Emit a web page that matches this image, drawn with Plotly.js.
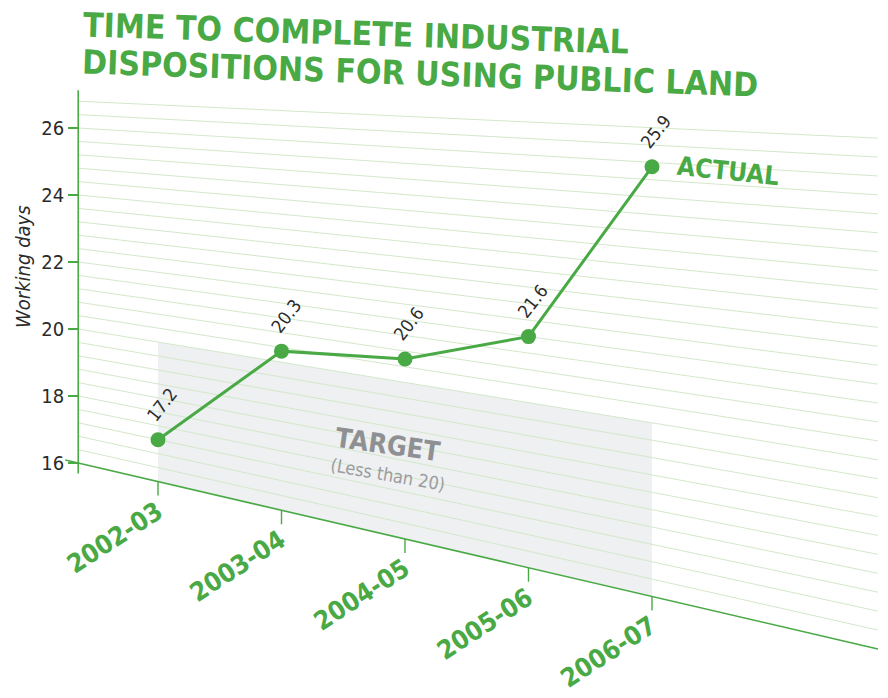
<!DOCTYPE html>
<html>
<head>
<meta charset="utf-8">
<script src="https://cdn.plot.ly/plotly-3.0.1.min.js"></script>
<style>
  html, body { margin: 0; padding: 0; background: #ffffff; }
  #chart { width: 888px; height: 698px; }
</style>
</head>
<body>
<div id="chart"></div>
<script>
// ---------------- data ----------------
const years = ['2002-03', '2003-04', '2004-05', '2005-06', '2006-07'];
const workingDays = [17.2, 20.3, 20.6, 21.6, 25.9];
const targetDays = 20;              // target: less than 20 working days
const yTickVals = [16, 18, 20, 22, 24, 26];
const titleLines = ['TIME TO COMPLETE INDUSTRIAL', 'DISPOSITIONS FOR USING PUBLIC LAND'];
const yTitle = 'Working days';
const targetLabel = 'TARGET';
const targetNote = '(Less than 20)';
const seriesLabel = 'ACTUAL';

// ---------------- style ----------------
const GREEN = '#49a945';
const GRID = '#d3e8cb';
const TARGET_FILL = '#eef0f1';
const NARROW = "'Liberation Sans Narrow', 'DejaVu Sans Condensed', 'Arial Narrow', sans-serif";

// ---------------- receding-plane perspective ----------------
// The chart sits on a plane that recedes towards the left: value lines fan out
// to the right. Category positions stay on the library's x axis; the y axis is
// the value scale at the plane's left edge, and onPlane() gives, for a point
// (category position u, value v), where it sits on that left-edge scale.
const FLOOR = 16;                 // value of the floor line (x axis)
const U_LEFT = -0.646;            // left edge of the plane, in category units
const U_RIGHT = 5.829;            // right edge of the plane, in category units
const FAR_SCALE = 1.412;          // value scale at the right edge / left edge
const FLOOR_DROP = 5.552;         // drop of the floor line across the plane
const GRID_STEP = 0.4, GRID_TOP = 26.8;

function depth(u) { return (u - U_LEFT) / (U_RIGHT - U_LEFT); }
function onPlane(u, v) {
  const t = depth(u);
  return FLOOR + (1 + t * (FAR_SCALE - 1)) * (v - FLOOR) - t * FLOOR_DROP;
}

// ---------------- shapes: target area, grid, axes ----------------
const shapes = [];
const last = years.length - 1;
shapes.push({
  type: 'path', layer: 'below', xref: 'x', yref: 'y',
  path: `M 0,${onPlane(0, FLOOR)} L ${last},${onPlane(last, FLOOR)} L ${last},${onPlane(last, targetDays)} L 0,${onPlane(0, targetDays)} Z`,
  fillcolor: TARGET_FILL, line: { width: 0 }
});
for (let k = 1; FLOOR + k * GRID_STEP <= GRID_TOP + 1e-9; k++) {
  const v = FLOOR + k * GRID_STEP;
  shapes.push({
    type: 'line', layer: 'below', xref: 'x', yref: 'y',
    x0: U_LEFT, x1: U_RIGHT, y0: onPlane(U_LEFT, v), y1: onPlane(U_RIGHT, v),
    line: { color: GRID, width: 1 }
  });
}
// floor line (x axis), extended a little to the left of the value axis
const uFloorStart = U_LEFT - 0.105;
shapes.push({
  type: 'line', layer: 'below', xref: 'x', yref: 'y',
  x0: uFloorStart, x1: U_RIGHT, y0: onPlane(uFloorStart, FLOOR), y1: onPlane(U_RIGHT, FLOOR),
  line: { color: GREEN, width: 1.6 }
});
// value axis line at the left edge
shapes.push({
  type: 'line', layer: 'below', xref: 'x', yref: 'y',
  x0: U_LEFT, x1: U_LEFT, y0: 15.69, y1: 27.13,
  line: { color: GREEN, width: 1.6 }
});
// category tick marks below the floor line
years.forEach((y, i) => {
  shapes.push({
    type: 'line', layer: 'below', xref: 'x', yref: 'y',
    ysizemode: 'pixel', yanchor: onPlane(i, FLOOR), x0: i, x1: i, y0: 0, y1: -14,
    line: { color: GREEN, width: 1.4 }
  });
});

// ---------------- annotations ----------------
const annotations = [];
// title (two lines, slightly tilted by the plane)
annotations.push({
  xref: 'paper', yref: 'paper', x: 80 / 888, y: 1 - 33 / 698, xanchor: 'left', yanchor: 'middle',
  text: titleLines[0], showarrow: false, textangle: 1.8,
  font: { family: NARROW, size: 33.5, color: GREEN, weight: 700 }
});
annotations.push({
  xref: 'paper', yref: 'paper', x: 79 / 888, y: 1 - 73 / 698, xanchor: 'left', yanchor: 'middle',
  text: titleLines[1], showarrow: false, textangle: 1.95,
  font: { family: NARROW, size: 33.5, color: GREEN, weight: 700 }
});
// y axis title
annotations.push({
  xref: 'paper', yref: 'paper', x: 23 / 888, y: 1 - 267 / 698, xanchor: 'center', yanchor: 'middle',
  text: yTitle, showarrow: false, textangle: -90,
  font: { family: NARROW, size: 20, color: '#2b2b2b', style: 'italic' }
});
// category labels along the floor line
years.forEach((y, i) => {
  annotations.push({
    xref: 'x', yref: 'y', x: y, y: onPlane(i, FLOOR), xshift: -44, yshift: -56,
    xanchor: 'center', yanchor: 'middle', showarrow: false, textangle: -33,
    text: y, font: { family: NARROW, size: 26, color: GREEN, weight: 700 }
  });
});
// value labels above each point
workingDays.forEach((v, i) => {
  annotations.push({
    xref: 'x', yref: 'y', x: years[i], y: onPlane(i, v), xshift: 4, yshift: 35,
    xanchor: 'center', yanchor: 'middle', showarrow: false, textangle: -52,
    text: v.toFixed(1), font: { family: NARROW, size: 18, color: '#2b2b2b' }
  });
});
// target labels inside the shaded area
annotations.push({
  xref: 'x', yref: 'y', x: 1.86, y: onPlane(1.86, 18.32),
  xanchor: 'center', yanchor: 'middle', showarrow: false, textangle: 8,
  text: targetLabel, font: { family: NARROW, size: 27, color: '#8e9093', weight: 700 }
});
annotations.push({
  xref: 'x', yref: 'y', x: 1.86, y: onPlane(1.86, 17.57),
  xanchor: 'center', yanchor: 'middle', showarrow: false, textangle: 10,
  text: targetNote, font: { family: NARROW, size: 18, color: '#9a9c9f' }
});
// series label next to the last point
annotations.push({
  xref: 'x', yref: 'y', x: years[last], y: onPlane(last, workingDays[last]), xshift: 22, yshift: -4,
  xanchor: 'left', yanchor: 'middle', showarrow: false, textangle: 6,
  text: seriesLabel, font: { family: NARROW, size: 26, color: GREEN, weight: 700 }
});

// ---------------- trace ----------------
const trace = {
  type: 'scatter', mode: 'lines+markers',
  x: years,
  y: workingDays.map((v, i) => onPlane(i, v)),
  customdata: workingDays,
  hovertemplate: '%{x}: %{customdata} working days<extra></extra>',
  line: { color: GREEN, width: 3 },
  marker: { color: GREEN, size: 15 },
  cliponaxis: false,
  showlegend: false
};

// ---------------- layout ----------------
// x axis: 123.5 px per category with 2002-03 at x=158 px; y axis: 33.5 px per day with 16 at y=463 px
const PX_PER_CAT = 123.5, PX_PER_DAY = 33.5, W = 888, H = 698;
const xr0 = -158 / PX_PER_CAT;
const yr1 = FLOOR + 463 / PX_PER_DAY;
const layout = {
  width: W, height: H,
  margin: { l: 0, r: 0, t: 0, b: 0 },
  paper_bgcolor: '#ffffff', plot_bgcolor: '#ffffff',
  showlegend: false,
  xaxis: {
    type: 'category', categoryorder: 'array', categoryarray: years,
    range: [xr0, xr0 + W / PX_PER_CAT],
    showticklabels: false, ticks: '', showgrid: false, zeroline: false, showline: false, fixedrange: true
  },
  yaxis: {
    range: [yr1 - H / PX_PER_DAY, yr1],
    anchor: 'free', position: (158 + U_LEFT * PX_PER_CAT) / W,
    tickvals: yTickVals, ticks: 'outside', ticklen: 10, tickwidth: 1.5, tickcolor: GREEN,
    tickfont: { family: NARROW, size: 20, color: '#2b2b2b' },
    showgrid: false, zeroline: false, showline: false, fixedrange: true
  },
  shapes: shapes,
  annotations: annotations
};

Plotly.newPlot('chart', [trace], layout, { displayModeBar: false, staticPlot: false });
</script>
</body>
</html>
